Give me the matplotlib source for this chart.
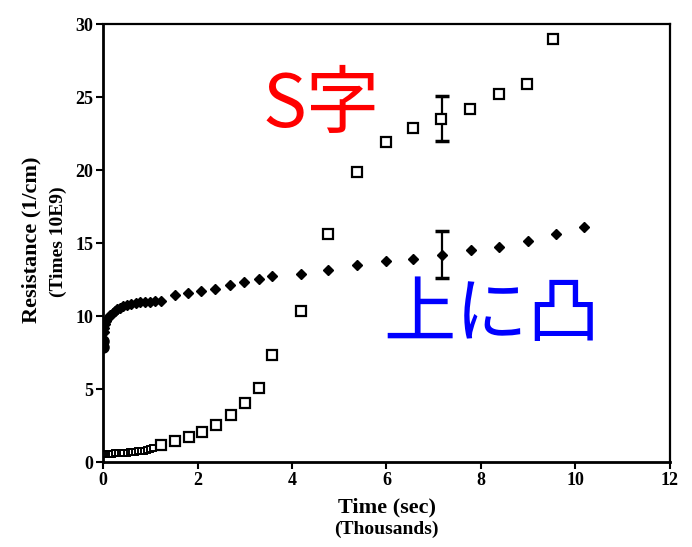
import numpy as np
import matplotlib.pyplot as plt

# time in thousands of seconds, resistance in 1/cm x 10E9
sq_t = [0.0, 0.03, 0.06, 0.1, 0.14, 0.19, 0.25, 0.31, 0.37, 0.43, 0.5, 0.56, 0.62, 0.68,
        0.74, 0.8, 0.86, 0.92, 1.0, 1.06, 1.23, 1.53, 1.82, 2.1, 2.38, 2.7, 3.0, 3.31,
        3.58, 4.18, 4.77, 5.38, 6.0, 6.56, 7.15, 7.77, 8.39, 8.97, 9.53]
sq_r = [0.55, 0.55, 0.56, 0.57, 0.58, 0.58, 0.6, 0.6, 0.62, 0.63, 0.65, 0.67, 0.7, 0.72,
        0.74, 0.77, 0.8, 0.84, 0.9, 0.96, 1.15, 1.42, 1.7, 2.1, 2.58, 3.22, 4.05, 5.08,
        7.35, 10.35, 15.65, 19.9, 21.9, 22.9, 23.5, 24.2, 25.2, 25.9, 29.0]

dm_t = [0.0, 0.0, 0.01, 0.02, 0.04, 0.07, 0.1, 0.15, 0.2, 0.25, 0.3, 0.36, 0.43, 0.5,
        0.6, 0.7, 0.78, 0.88, 0.99, 1.1, 1.23, 1.52, 1.79, 2.07, 2.36, 2.69, 2.99, 3.3,
        3.58, 4.2, 4.77, 5.38, 6.0, 6.56, 7.17, 7.79, 8.39, 8.99, 9.58, 10.18]
dm_r = [7.9, 8.3, 8.9, 9.2, 9.45, 9.7, 9.9, 10.1, 10.25, 10.37, 10.48, 10.58, 10.68, 10.75,
        10.83, 10.9, 10.94, 10.98, 11.0, 11.03, 11.05, 11.45, 11.6, 11.74, 11.88, 12.1, 12.32, 12.57,
        12.72, 12.88, 13.16, 13.5, 13.75, 13.94, 14.2, 14.5, 14.75, 15.13, 15.6, 16.08]

# error bars on one point of each series
eb_t = 7.17
sq_lo, sq_hi = 22.0, 25.1
dm_lo, dm_hi = 12.6, 15.8

fig = plt.figure(figsize=(6.92, 5.47), dpi=100)
ax = fig.add_axes([0.149, 0.155, 0.819, 0.801])

serif = ['Liberation Serif', 'DejaVu Serif']

n_dense = 20
ax.plot(sq_t[:n_dense], sq_r[:n_dense], 's', ms=4.5, mfc='white', mec='black', mew=1.4, zorder=3)
ax.plot(sq_t[n_dense:], sq_r[n_dense:], 's', ms=7, mfc='white', mec='black', mew=1.6, zorder=3)
ax.plot(dm_t[:2], dm_r[:2], 'o', ms=8, color='black', zorder=3)
ax.plot(dm_t[2:], dm_r[2:], 'D', ms=5.5, color='black', zorder=3)

for lo, hi in [(sq_lo, sq_hi), (dm_lo, dm_hi)]:
    ax.errorbar([eb_t], [(lo + hi) / 2], yerr=[[(hi - lo) / 2], [(hi - lo) / 2]],
                fmt='none', ecolor='black', elinewidth=1.6, capsize=5, capthick=2.5, zorder=2)

ax.set_xlim(0, 12)
ax.set_ylim(0, 30)
ax.set_xticks(np.arange(0, 13, 2))
ax.set_yticks(np.arange(0, 31, 5))
ax.tick_params(direction='out', length=5, width=1.5, labelsize=13, pad=2)
for lab in ax.get_xticklabels() + ax.get_yticklabels():
    lab.set_family(serif)
    lab.set_fontweight('bold')
for side in ['left', 'bottom']:
    ax.spines[side].set_linewidth(2.0)
for side in ['top', 'right']:
    ax.spines[side].set_linewidth(1.6)

fig.text(0.046, 0.561, 'Resistance (1/cm)', rotation=90, ha='center', va='center',
         family=serif, fontweight='bold', fontsize=16)
fig.text(0.084, 0.558, '(Times 10E9)', rotation=90, ha='center', va='center',
         family=serif, fontweight='bold', fontsize=14)
fig.text(0.559, 0.073, 'Time (sec)', ha='center', va='center',
         family=serif, fontweight='bold', fontsize=16)
fig.text(0.559, 0.033, '(Thousands)', ha='center', va='center',
         family=serif, fontweight='bold', fontsize=14)

cjk = ['Noto Sans CJK JP', 'DejaVu Sans']
ax.text(4.61, 24.4, 'S字', color='#ff0000', fontsize=53, family=cjk,
        ha='center', va='center')
ax.text(8.23, 10.05, '上に凸', color='#0000ff', fontsize=52, family=cjk,
        ha='center', va='center')

fig.savefig('out.png', dpi=100)
